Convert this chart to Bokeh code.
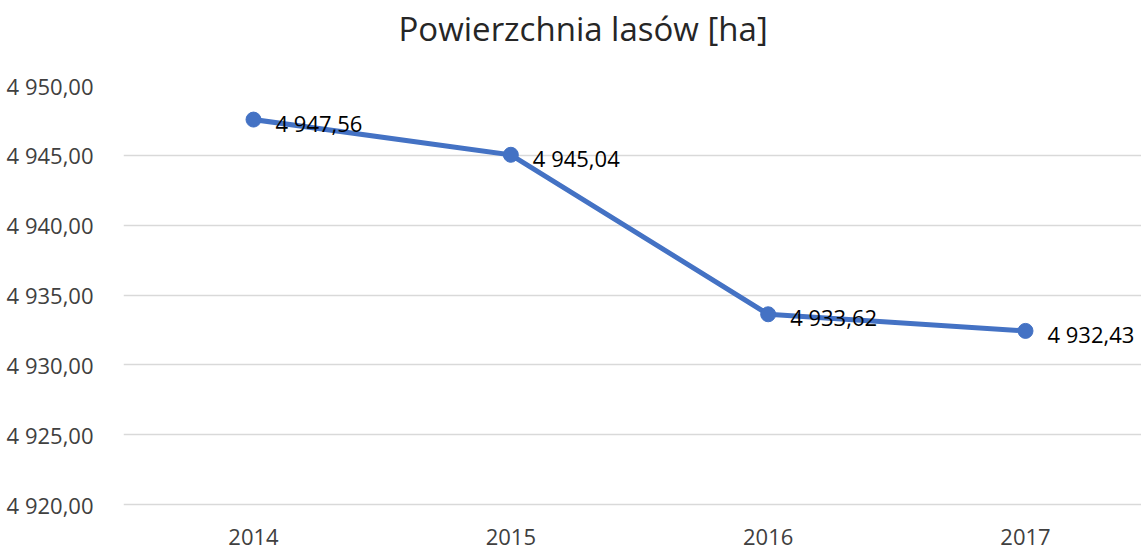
from bokeh.plotting import figure
from bokeh.models import Range1d, FixedTicker, Title
from bokeh.core.properties import value
from bokeh.embed import file_html
from bokeh.resources import INLINE

years = [2014, 2015, 2016, 2017]
area = [4947.56, 4945.04, 4933.62, 4932.43]
y_ticks = [4920, 4925, 4930, 4935, 4940, 4945, 4950]
y_tick_labels = ["4 920,00", "4 925,00", "4 930,00", "4 935,00", "4 940,00", "4 945,00", "4 950,00"]
x_tick_labels = ["2014", "2015", "2016", "2017"]
point_labels = ["4 947,56", "4 945,04", "4 933,62", "4 932,43"]
title_text = "Powierzchnia lasów [ha]"

FONT = "Open Sans"
BLUE = "#4472C4"

p = figure(width=1141, height=549, output_backend="svg", toolbar_location=None, title=None,
           x_range=Range1d(2013.4948, 2017.4508), y_range=Range1d(4919.857, 4950.0),
           min_border_left=123, min_border_right=0, min_border_top=85, min_border_bottom=43)

# spacer title (closest to the frame), then the real title above it
p.add_layout(Title(text=" ", text_font=FONT, text_font_size="24px", standoff=0), "above")
p.add_layout(Title(text=title_text, align="left", offset=275, standoff=0,
                   text_font=FONT, text_font_size="33px", text_font_style="normal",
                   text_color="#262626"), "above")

p.outline_line_color = None
p.background_fill_color = "white"
p.border_fill_color = "white"

p.xaxis.ticker = FixedTicker(ticks=years)
p.xaxis.major_label_overrides = {y: l for y, l in zip(years, x_tick_labels)}
p.yaxis.ticker = FixedTicker(ticks=y_ticks)
p.yaxis.major_label_overrides = {t: l for t, l in zip(y_ticks, y_tick_labels)}

for ax in (p.xaxis, p.yaxis):
    ax.axis_line_color = None
    ax.major_tick_line_color = None
    ax.minor_tick_line_color = None
    ax.major_label_text_font = FONT
    ax.major_label_text_font_size = "22px"
    ax.major_label_text_color = "#404040"
p.yaxis.major_label_standoff = 24
p.xaxis.major_label_standoff = 16

p.xgrid.grid_line_color = None
p.ygrid.grid_line_color = "#D9D9D9"
p.ygrid.grid_line_width = 1.5

p.line(years, area, line_color=BLUE, line_width=5)
p.scatter(years, area, size=15, fill_color=BLUE, line_color=BLUE)
p.text(x=years, y=area, text=point_labels, x_offset=22, y_offset=3,
       text_align="left", text_baseline="middle",
       text_font=value(FONT), text_font_size="22px", text_color="black")

open("out.html", "w").write(file_html(p, INLINE))
